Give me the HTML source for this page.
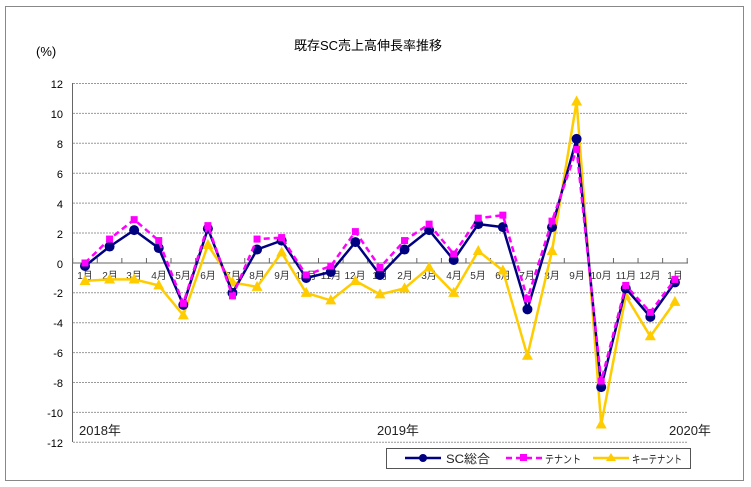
<!DOCTYPE html>
<html><head><meta charset="utf-8"><style>
html,body{margin:0;padding:0;background:#fff;}
svg{display:block;font-family:"Liberation Sans","Noto Sans CJK JP",sans-serif;}
</style></head><body>
<svg id="s" width="751" height="487" viewBox="0 0 751 487" xmlns="http://www.w3.org/2000/svg">
<rect x="5.5" y="6.5" width="738" height="474" fill="#fff" stroke="#888" stroke-width="1"/>
<text x="368" y="50" font-size="13" text-anchor="middle" fill="#000">既存SC売上高伸長率推移</text>
<text x="36" y="56" font-size="13" fill="#000">(%)</text>
<g id="grid" stroke="#999" stroke-dasharray="2,1" stroke-width="1"></g>
<g font-size="11" fill="#000" text-anchor="end">
<text x="63" y="88">12</text><text x="63" y="118">10</text><text x="63" y="148">8</text><text x="63" y="178">6</text><text x="63" y="208">4</text><text x="63" y="238">2</text><text x="63" y="268">0</text><text x="63" y="297">-2</text><text x="63" y="327">-4</text><text x="63" y="357">-6</text><text x="63" y="387">-8</text><text x="63" y="417">-10</text><text x="63" y="447">-12</text>
</g>
<line x1="72.5" y1="83" x2="72.5" y2="442" stroke="#666"/>
<line x1="72" y1="263" x2="688" y2="263" stroke="#666"/>
<g id="ticks" stroke="#666"></g>
<g font-size="10" fill="#333" text-anchor="middle">
<text x="85" y="279">1月</text><text x="110" y="279">2月</text><text x="134" y="279">3月</text><text x="159" y="279">4月</text><text x="183" y="279">5月</text><text x="208" y="279">6月</text><text x="233" y="279">7月</text><text x="257" y="279">8月</text><text x="282" y="279">9月</text><text x="306" y="279">10月</text><text x="331" y="279">11月</text><text x="355" y="279">12月</text><text x="380" y="279">1月</text><text x="405" y="279">2月</text><text x="429" y="279">3月</text><text x="454" y="279">4月</text><text x="478" y="279">5月</text><text x="503" y="279">6月</text><text x="527" y="279">7月</text><text x="552" y="279">8月</text><text x="577" y="279">9月</text><text x="601" y="279">10月</text><text x="626" y="279">11月</text><text x="650" y="279">12月</text><text x="675" y="279">1月</text>
</g>
<g font-size="13" fill="#222">
<text x="79" y="435">2018年</text><text x="377" y="435">2019年</text><text x="669" y="435">2020年</text>
</g>
<g id="series"></g>
<rect x="386.5" y="448.5" width="304" height="20" fill="#fff" stroke="#555"/>
<line x1="405" y1="458" x2="441" y2="458" stroke="#000080" stroke-width="2.5"/><circle cx="423" cy="458" r="4" fill="#000080"/>
<text x="446" y="463" font-size="12" fill="#222" textLength="44" lengthAdjust="spacingAndGlyphs">SC総合</text>
<line x1="506" y1="458" x2="542" y2="458" stroke="#ff00ff" stroke-width="2.5" stroke-dasharray="6,4"/><rect x="520" y="454" width="7" height="7" fill="#ff00ff"/>
<text x="545" y="463" font-size="11" fill="#222" textLength="36" lengthAdjust="spacingAndGlyphs">テナント</text>
<line x1="593" y1="458" x2="629" y2="458" stroke="#ffcc00" stroke-width="2.5"/><polygon points="611,453 616,461 606,461" fill="#ffcc00"/>
<text x="632" y="463" font-size="11" fill="#222" textLength="50" lengthAdjust="spacingAndGlyphs">キーテナント</text>
</svg>
<script>
var NS="http://www.w3.org/2000/svg";
function el(t,a,p){var e=document.createElementNS(NS,t);for(var k in a)e.setAttribute(k,a[k]);p.appendChild(e);return e;}
var g=document.getElementById("grid");
for(var i=0;i<13;i++){var y=83.5+i*29.9;if(i==6)continue;el("line",{x1:73,x2:688,y1:y,y2:y},g);}
var tk=document.getElementById("ticks");
for(var i=0;i<26;i++){var x=72.7+i*24.58;el("line",{x1:x,x2:x,y1:258,y2:263},tk);}
function X(i){return 85+i*24.58;}
function Y(v){return 263-v*14.95;}
var sc=[-0.2,1.1,2.2,1.0,-2.8,2.3,-2.0,0.9,1.5,-1.0,-0.6,1.4,-0.8,0.9,2.2,0.2,2.6,2.4,-3.1,2.4,8.3,-8.3,-1.7,-3.6,-1.3];
var te=[0,1.6,2.9,1.5,-2.7,2.5,-2.2,1.6,1.7,-0.8,-0.2,2.1,-0.3,1.5,2.6,0.6,3.0,3.2,-2.4,2.8,7.6,-7.9,-1.5,-3.3,-1.1];
var ke=[-1.2,-1.1,-1.1,-1.5,-3.5,1.2,-1.3,-1.6,0.7,-2.0,-2.5,-1.2,-2.1,-1.7,-0.3,-2.0,0.8,-0.5,-6.2,0.8,10.8,-10.8,-2.2,-4.9,-2.6];
var s=document.getElementById("series");
function pts(d){return d.map(function(v,i){return X(i).toFixed(1)+","+Y(v).toFixed(1)}).join(" ");}
el("polyline",{points:pts(ke),fill:"none",stroke:"#ffcc00","stroke-width":2.5},s);
ke.forEach(function(v,i){var x=X(i),y=Y(v);el("polygon",{points:(x)+","+(y-6)+" "+(x+5.5)+","+(y+4)+" "+(x-5.5)+","+(y+4),fill:"#ffcc00"},s);});
el("polyline",{points:pts(sc),fill:"none",stroke:"#000080","stroke-width":2.5},s);
sc.forEach(function(v,i){el("circle",{cx:X(i),cy:Y(v),r:5,fill:"#000080"},s);});
el("polyline",{points:pts(te),fill:"none",stroke:"#ff00ff","stroke-width":2.5,"stroke-dasharray":"6,4"},s);
te.forEach(function(v,i){el("rect",{x:X(i)-3.5,y:Y(v)-3.5,width:7,height:7,fill:"#ff00ff"},s);});
</script>
</body></html>
